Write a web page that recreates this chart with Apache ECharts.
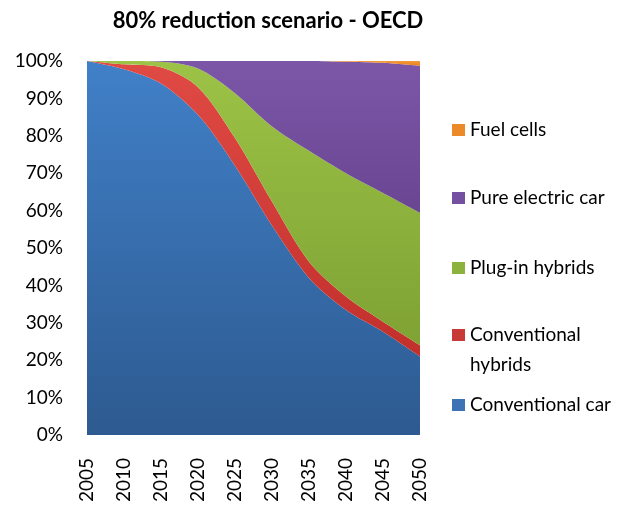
<!DOCTYPE html>
<html><head><meta charset="utf-8">
<script src="https://cdn.jsdelivr.net/npm/echarts@6/dist/echarts.min.js"></script>
<style>html,body{margin:0;padding:0;background:#fff}#c{width:637px;height:526px}</style>
</head><body><div id="c"></div>
<script>
var years = ['2005','2010','2015','2020','2025','2030','2035','2040','2045','2050'];
var conventionalCar = [100, 97.8, 94, 85.6, 72, 56, 42, 33.4, 27.6, 21];
var conventionalHybrids = [0, 1.3, 4.3, 7.4, 7.4, 6.4, 4.3, 3.6, 2.7, 3];
var plugInHybrids = [0, 0.9, 1.5, 5, 12, 20.1, 29.7, 33, 34.4, 35.4];
var pureElectric = [0, 0, 0.2, 2, 8.6, 17.5, 24, 29.8, 34.8, 39.3];
var fuelCells = [0, 0, 0, 0, 0, 0, 0, 0.2, 0.5, 1.3];
var yTicks = [0,10,20,30,40,50,60,70,80,90,100];

var FONT = 'Lato, "Open Sans", sans-serif';
function grad(top, bottom){
  return new echarts.graphic.LinearGradient(0,0,0,1,[{offset:0,color:top},{offset:1,color:bottom}]);
}
var cols = {
  car: grad('#4180c8','#2d5a90'),
  hyb: grad('#e04a44','#c2302c'),
  plug: grad('#9cc346','#7fa234'),
  pure: grad('#7c57a8','#6a4592'),
  fuel: grad('#f49a3a','#e5801e')
};
var iconCols = {car:'#3d72b4', hyb:'#c83a36', plug:'#8cb23e', pure:'#7550a0', fuel:'#ec8a2a'};

function mk(name, data, key){
  return {
    name: name, type: 'line', stack: 'total', data: data, smooth: 0.3,
    symbol: 'none', lineStyle: {width: 0},
    areaStyle: {color: cols[key], opacity: 1},
    itemStyle: {color: iconCols[key]}
  };
}
function lg(name, top, twoLine){
  var o = {
    orient: 'vertical', left: 447, top: top, itemWidth: 13, itemHeight: 12, icon: 'rect',
    itemGap: 0, selectedMode: false,
    textStyle: {fontFamily: FONT, fontSize: 19, color: '#000', lineHeight: 30},
    formatter: function(n){ return n === 'Conventional hybrids' ? 'Conventional\nhybrids' : n; },
    data: [name]
  };
  if (twoLine) {
    o.itemHeight = 42;
    o.icon = 'path://M0,0L13,0L13,12L0,12Z M6,41.9L6.05,42L6,42Z';
  }
  return o;
}
var chart = echarts.init(document.getElementById('c'));
chart.setOption({
  animation: false,
  title: {text: '80% reduction scenario - OECD', left: 263, textAlign: 'center', top: 5,
    textStyle: {fontFamily: FONT, fontSize: 22, fontWeight: 'bold', color: '#000'}},
  legend: [
    lg('Fuel cells', 110),
    lg('Pure electric car', 178),
    lg('Plug-in hybrids', 248),
    lg('Conventional hybrids', 315, true),
    lg('Conventional car', 385)
  ],
  grid: {left: 87, right: 217, top: 61, bottom: 91, containLabel: false},
  xAxis: {type: 'category', data: years, boundaryGap: false,
    axisLine: {show: false}, axisTick: {show: false},
    axisLabel: {rotate: 90, fontFamily: FONT, fontSize: 19, color: '#000', margin: 23}},
  yAxis: {type: 'value', min: 0, max: 100, interval: 10,
    splitLine: {show: false}, axisLine: {show: false}, axisTick: {show: false},
    axisLabel: {formatter: '{value}%', fontFamily: FONT, fontSize: 19, color: '#000', margin: 24}},
  series: [
    mk('Conventional car', conventionalCar, 'car'),
    mk('Conventional hybrids', conventionalHybrids, 'hyb'),
    mk('Plug-in hybrids', plugInHybrids, 'plug'),
    mk('Pure electric car', pureElectric, 'pure'),
    mk('Fuel cells', fuelCells, 'fuel')
  ]
});
</script></body></html>
